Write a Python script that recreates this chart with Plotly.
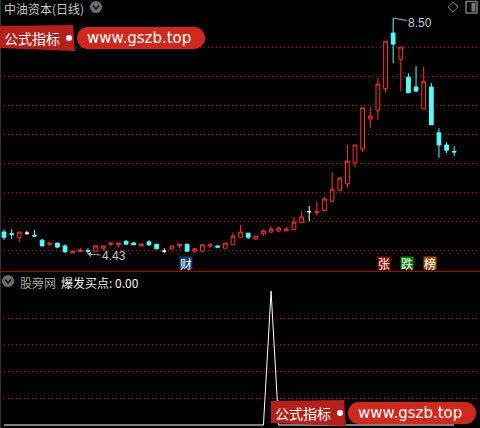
import plotly.graph_objects as go

# ---------------- data ----------------
opens = [4.81, 4.78, 4.72, 4.79, 4.75, 4.67, 4.59, 4.62, 4.57, 4.45,
         4.47, 4.49, 4.47, 4.53, 4.60, 4.59, 4.65, 4.62, 4.57, 4.64,
         4.60, 4.48, 4.52, 4.57, 4.60, 4.48, 4.48, 4.57, 4.57, 4.53,
         4.59, 4.72, 4.79, 4.69, 4.78, 4.81, 4.83, 4.83, 4.85, 4.97,
         5.16, 5.14, 5.18, 5.34, 5.53, 5.64, 6.00, 6.24, 6.76, 6.91,
         7.28, 8.24, 7.79, 7.48, 7.31, 6.93, 7.31, 6.52, 6.31, 6.20]
closes = [4.72, 4.77, 4.81, 4.79, 4.74, 4.57, 4.62, 4.55, 4.47, 4.48,
          4.50, 4.48, 4.57, 4.57, 4.62, 4.62, 4.60, 4.59, 4.60, 4.59,
          4.52, 4.48, 4.57, 4.60, 4.48, 4.52, 4.59, 4.60, 4.55, 4.62,
          4.74, 4.81, 4.72, 4.74, 4.83, 4.86, 4.88, 4.86, 4.98, 5.07,
          5.16, 5.16, 5.38, 5.55, 5.74, 6.03, 6.31, 6.95, 6.81, 7.36,
          8.10, 8.05, 8.00, 7.21, 7.24, 7.40, 6.66, 6.31, 6.22, 6.19]
highs = [4.85, 4.86, 4.81, 4.83, 4.85, 4.69, 4.62, 4.62, 4.60, 4.48,
         4.53, 4.53, 4.57, 4.57, 4.62, 4.62, 4.67, 4.64, 4.62, 4.67,
         4.60, 4.53, 4.57, 4.60, 4.60, 4.53, 4.59, 4.60, 4.57, 4.62,
         4.79, 4.93, 4.79, 4.74, 4.85, 4.91, 4.90, 4.90, 5.07, 5.17,
         5.26, 5.33, 5.41, 5.84, 5.76, 6.31, 6.31, 6.95, 6.97, 7.47,
         8.10, 8.50, 8.00, 7.55, 7.67, 7.66, 7.38, 6.60, 6.36, 6.29]
lows = [4.67, 4.69, 4.64, 4.76, 4.74, 4.57, 4.59, 4.53, 4.45, 4.45,
        4.47, 4.43, 4.47, 4.48, 4.57, 4.55, 4.60, 4.59, 4.57, 4.57,
        4.52, 4.45, 4.52, 4.53, 4.48, 4.45, 4.47, 4.53, 4.53, 4.53,
        4.59, 4.72, 4.69, 4.67, 4.74, 4.79, 4.81, 4.83, 4.85, 4.97,
        5.00, 5.10, 5.17, 5.33, 5.52, 5.57, 5.93, 6.19, 6.60, 6.74,
        7.22, 7.72, 7.24, 7.21, 7.22, 6.93, 6.66, 6.09, 6.17, 6.12]
white_doji = [3, 21, 40]
signal = [0, 0, 0, 0, 0, 0, 0, 0, 0, 0,
          0, 0, 0, 0, 0, 0, 0, 0, 0, 0,
          0, 0, 0, 0, 0, 0, 0, 0, 0, 0,
          0, 0, 0, 0, 0, 100, 0, 0, 0, 0,
          0, 0, 0, 0, 0, 0, 0, 0, 0, 0,
          0, 0, 0, 0, 0, 0, 0, 0, 0, 0]
price_grid = [4.5, 5.0, 5.5, 6.0, 6.5, 7.0, 7.5, 8.0]
signal_grid = [20, 40, 60, 80]
title_main = "中油资本(日线)"
title_sub_a = "股旁网"
title_sub_b = "爆发买点: 0.00"
info_tags = ["财", "张", "跌", "榜"]

RED = "#ff3232"
CYAN = "#54ffff"
GRID = "#c00000"
W, H = 480, 428
CJK = "Noto Sans CJK SC"


def px(x):
    return x / W


def py(y):
    return 1 - y / H


n = len(opens)
xs = list(range(n))
main_idx = [i for i in xs if i not in white_doji]

fig = go.Figure()
fig.add_trace(go.Candlestick(
    x=main_idx,
    open=[opens[i] for i in main_idx], high=[highs[i] for i in main_idx],
    low=[lows[i] for i in main_idx], close=[closes[i] for i in main_idx],
    increasing=dict(line=dict(color=RED, width=1), fillcolor="black"),
    decreasing=dict(line=dict(color=CYAN, width=1), fillcolor=CYAN),
    whiskerwidth=0, hoverinfo="skip", xaxis="x", yaxis="y"))
fig.add_trace(go.Candlestick(
    x=white_doji,
    open=[opens[i] for i in white_doji], high=[highs[i] for i in white_doji],
    low=[lows[i] for i in white_doji], close=[closes[i] for i in white_doji],
    increasing=dict(line=dict(color="white", width=1), fillcolor="white"),
    decreasing=dict(line=dict(color="white", width=1), fillcolor="white"),
    whiskerwidth=0, hoverinfo="skip", xaxis="x", yaxis="y"))
fig.add_trace(go.Scatter(x=xs, y=signal, mode="lines",
                         line=dict(color="white", width=1),
                         hoverinfo="skip", xaxis="x2", yaxis="y2"))

xrange = [-0.524, 62.38]
fig.update_layout(
    width=W, height=H, margin=dict(l=0, r=0, t=0, b=0),
    paper_bgcolor="black", plot_bgcolor="black", showlegend=False,
    xaxis=dict(domain=[0, 1], range=xrange, anchor="y", showticklabels=False,
               showgrid=False, zeroline=False, rangeslider=dict(visible=False),
               fixedrange=True),
    yaxis=dict(domain=[157 / H, 1], range=[4.138, 8.8103], anchor="x",
               tickvals=price_grid, showticklabels=False, gridcolor=GRID,
               griddash="1px,3px", gridwidth=1, zeroline=False),
    xaxis2=dict(domain=[0, 1], range=xrange, anchor="y2", matches="x",
                showticklabels=False, showgrid=False, zeroline=False,
                rangeslider=dict(visible=False)),
    yaxis2=dict(domain=[0, 156 / H], range=[-2.243, 114.4], anchor="x2",
                tickvals=signal_grid, showticklabels=False, gridcolor=GRID,
                griddash="1px,3px", gridwidth=1, zeroline=False),
)

shapes = []
annots = []

# separator line between panels
shapes.append(dict(type="line", xref="paper", yref="paper", x0=0, x1=1,
                   y0=py(271.5), y1=py(271.5), line=dict(color="#b00000", width=1)))
# left edge
shapes.append(dict(type="line", xref="paper", yref="paper", x0=px(0.5), x1=px(0.5),
                   y0=0, y1=1, line=dict(color="#333333", width=1)))


def chevron_icon(cx, cy):
    shapes.append(dict(type="circle", xref="paper", yref="paper",
                       x0=px(cx - 6), x1=px(cx + 6), y0=py(cy + 6), y1=py(cy - 6),
                       fillcolor="#6e6e6e", line=dict(width=0)))
    path = "M %f %f L %f %f L %f %f" % (px(cx - 3), py(cy - 1.5), px(cx), py(cy + 2),
                                       px(cx + 3), py(cy - 1.5))
    shapes.append(dict(type="path", xref="paper", yref="paper", path=path,
                       line=dict(color="#111111", width=1.6)))


# header top
annots.append(dict(x=px(2), y=py(8), xref="paper", yref="paper", text=title_main,
                   showarrow=False, xanchor="left", yanchor="middle",
                   font=dict(family=CJK, size=12, color="#c8c8c8")))
chevron_icon(96, 7)

# top right icons
dpath = "M %f %f L %f %f L %f %f L %f %f Z" % (px(453), py(2), px(458), py(7),
                                              px(453), py(12), px(448), py(7))
shapes.append(dict(type="path", xref="paper", yref="paper", path=dpath,
                   line=dict(color="#7a7a7a", width=1)))
shapes.append(dict(type="rect", xref="paper", yref="paper", x0=px(466), x1=px(477),
                   y0=py(13), y1=py(1.5), line=dict(color="#7a7a7a", width=1.5)))
shapes.append(dict(type="rect", xref="paper", yref="paper", x0=px(471.5), x1=px(475.5),
                   y0=py(11.5), y1=py(3), fillcolor="#7a7a7a", line=dict(width=0)))

# bottom panel header
chevron_icon(8, 281)
annots.append(dict(x=px(18), y=py(282), xref="paper", yref="paper", text=title_sub_a,
                   showarrow=False, xanchor="left", yanchor="middle",
                   font=dict(family=CJK, size=12, color="#a8a8a8")))
annots.append(dict(x=px(59), y=py(282), xref="paper", yref="paper", text=title_sub_b,
                   showarrow=False, xanchor="left", yanchor="middle",
                   font=dict(family=CJK, size=12, color="#f0f0f0")))


# watermark banners
def banner(ox, oy):
    p = "M %f %f L %f %f L %f %f L %f %f Z" % (px(ox), py(oy + 26), px(ox + 73), py(oy + 25),
                                               px(ox + 75), py(oy + 51), px(ox), py(oy + 48))
    shapes.append(dict(type="path", xref="paper", yref="paper", path=p,
                       fillcolor="#b4211a", line=dict(width=0)))
    shapes.append(dict(type="circle", xref="paper", yref="paper",
                       x0=px(ox + 66), x1=px(ox + 72), y0=py(oy + 41), y1=py(oy + 35),
                       fillcolor="white", line=dict(width=0)))
    x0, x1, y0, y1, r = ox + 77, ox + 205, oy + 27, oy + 49, 11
    shapes.append(dict(type="rect", xref="paper", yref="paper", x0=px(x0 + r), x1=px(x1 - r),
                       y0=py(y1), y1=py(y0), fillcolor="#d0281c", line=dict(width=0)))
    shapes.append(dict(type="circle", xref="paper", yref="paper", x0=px(x0), x1=px(x0 + 2 * r),
                       y0=py(y1), y1=py(y0), fillcolor="#d0281c", line=dict(width=0)))
    shapes.append(dict(type="circle", xref="paper", yref="paper", x0=px(x1 - 2 * r), x1=px(x1),
                       y0=py(y1), y1=py(y0), fillcolor="#d0281c", line=dict(width=0)))
    annots.append(dict(x=px(ox + 2), y=py(oy + 38), xref="paper", yref="paper", text="公式指标",
                       showarrow=False, xanchor="left", yanchor="middle",
                       font=dict(family=CJK, size=14, color="white")))
    annots.append(dict(x=px(ox + 139), y=py(oy + 38), xref="paper", yref="paper",
                       text="www.gszb.top", showarrow=False, xanchor="center", yanchor="middle",
                       font=dict(family="DejaVu Sans", size=15, color="white")))


banner(0, 0)
banner(271, 375)

# high / low markers
hi_i = highs.index(max(highs))
lo_i = lows.index(min(lows))
annots.append(dict(x=hi_i, y=highs[hi_i], xref="x", yref="y", text="%.2f" % highs[hi_i],
                   showarrow=True, arrowhead=0, arrowcolor="#b0b0b0", arrowwidth=1,
                   ax=27, ay=5, font=dict(family="Liberation Sans", size=12, color="#c8c8c8")))
annots.append(dict(x=lo_i, y=lows[lo_i], xref="x", yref="y", text="%.2f" % lows[lo_i],
                   showarrow=True, arrowhead=1, arrowcolor="#b0b0b0", arrowwidth=1,
                   ax=26, ay=2, font=dict(family="Liberation Sans", size=12, color="#c8c8c8")))

# info tags
tag_pos = [186, 384, 407, 430]
tag_bg = ["#123d70", "#8c0c0c", "#0c7a0c", "#9a520c"]
for t, xc, bg in zip(info_tags, tag_pos, tag_bg):
    shapes.append(dict(type="rect", xref="paper", yref="paper", x0=px(xc - 6.5), x1=px(xc + 6.5),
                       y0=py(269.5), y1=py(256.5), fillcolor=bg, line=dict(width=0)))
    annots.append(dict(x=px(xc), y=py(263), xref="paper", yref="paper", text=t,
                       showarrow=False, xanchor="center", yanchor="middle",
                       font=dict(family=CJK, size=12, color="white")))

fig.update_layout(shapes=shapes, annotations=annots)
fig.write_html("out.html", config={"displayModeBar": False},
               post_script="document.body.style.margin='0';document.documentElement.style.margin='0';")
